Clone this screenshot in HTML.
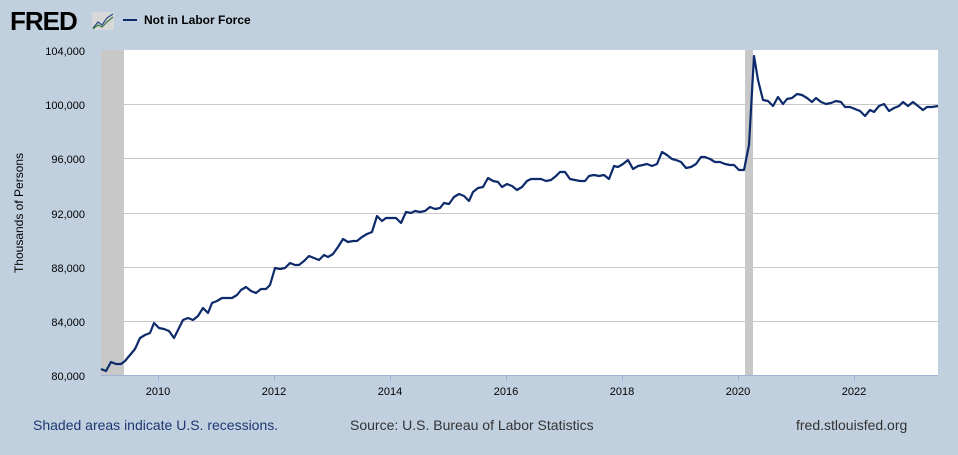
<!DOCTYPE html>
<html><head><meta charset="utf-8"><style>
body{margin:0;width:958px;height:450px;background:#c1d0df;font-family:"Liberation Sans",Arial,sans-serif;overflow:hidden}
</style></head><body>
<svg width="958" height="450" xmlns="http://www.w3.org/2000/svg" font-family="Liberation Sans, Arial, sans-serif">
<rect width="958" height="450" fill="#c1d0df"/>
<text x="10" y="30" font-size="26" font-weight="bold" fill="#000" letter-spacing="-1">FRED</text>
<rect x="92" y="12" width="22" height="18" rx="2" fill="#d8d8d8"/>
<polyline points="93,28 98,22 102,25 107,18 113,14" fill="none" stroke="#2a4a8a" stroke-width="1.2"/>
<polyline points="93,29 98,25 102,27 107,22 113,17" fill="none" stroke="#3a7a3a" stroke-width="1.2"/>
<line x1="123" y1="20" x2="137" y2="20" stroke="#0d2b6b" stroke-width="2"/>
<text x="144" y="24" font-size="12" font-weight="bold" fill="#000">Not in Labor Force</text>
<rect x="101" y="50" width="837" height="326" fill="#fff"/>
<rect x="101" y="50" width="23" height="326" fill="#c8c8c8"/>
<rect x="745" y="50" width="8" height="326" fill="#c8c8c8"/>
<g stroke="#c8c8c8" stroke-width="1">
<line x1="101" y1="104.5" x2="938" y2="104.5"/><line x1="101" y1="158.5" x2="938" y2="158.5"/>
<line x1="101" y1="213.5" x2="938" y2="213.5"/><line x1="101" y1="267.5" x2="938" y2="267.5"/>
<line x1="101" y1="321.5" x2="938" y2="321.5"/>
</g>
<line x1="101" y1="375.5" x2="938" y2="375.5" stroke="#9fb3d6"/>
<g stroke="#9fb3d6"><line x1="158.5" y1="376" x2="158.5" y2="381"/><line x1="274.5" y1="376" x2="274.5" y2="381"/><line x1="390.5" y1="376" x2="390.5" y2="381"/><line x1="506.5" y1="376" x2="506.5" y2="381"/><line x1="622.5" y1="376" x2="622.5" y2="381"/><line x1="738.5" y1="376" x2="738.5" y2="381"/><line x1="854.5" y1="376" x2="854.5" y2="381"/></g>
<g font-size="11" fill="#000" text-anchor="end">
<text x="85" y="55">104,000</text><text x="85" y="109">100,000</text><text x="85" y="163">96,000</text>
<text x="85" y="218">92,000</text><text x="85" y="272">88,000</text><text x="85" y="326">84,000</text><text x="85" y="380">80,000</text>
</g>
<g font-size="11" fill="#000" text-anchor="middle">
<text x="158" y="395">2010</text><text x="274" y="395">2012</text><text x="390" y="395">2014</text><text x="506" y="395">2016</text><text x="622" y="395">2018</text><text x="738" y="395">2020</text><text x="854" y="395">2022</text>
</g>
<text transform="translate(23,213) rotate(-90)" font-size="12" fill="#000" text-anchor="middle">Thousands of Persons</text>
<polyline fill="none" stroke="#0d2b6b" stroke-width="2.2" stroke-linejoin="round" points="101,369 106,371 111,362 116,364 121,364 125,361 130,355 135,349 140,338 145,335 150,333 154,323 159,328 164,329 169,331 174,338 179,328 183,320 188,318 193,320 198,316 203,308 208,313 212,303 217,301 222,298 227,298 232,298 237,295 241,290 246,287 251,291 256,293 261,289 266,289 270,285 275,268 280,269 285,268 290,263 295,265 299,265 304,261 309,256 314,258 319,260 324,255 328,257 333,254 338,247 343,239 348,242 353,241 357,241 362,237 367,234 372,232 377,216 382,221 386,218 391,218 396,218 401,223 406,212 411,213 415,211 420,212 425,211 430,207 435,209 440,208 444,203 449,204 454,197 459,194 464,196 469,201 473,192 478,188 483,187 488,178 493,181 498,182 502,187 507,184 512,186 517,190 522,187 527,181 531,179 536,179 541,179 546,181 551,180 556,176 560,172 565,172 570,179 575,180 580,181 585,181 589,176 594,175 599,176 604,175 609,179 614,166 618,167 623,164 628,160 633,169 638,166 643,165 647,164 652,166 657,164 662,152 667,155 672,159 676,160 681,162 686,168 691,167 696,164 701,157 705,157 710,159 715,162 720,162 725,164 730,165 734,165 739,170 744,170 749,145 754,56 758,80 763,100 768,101 773,106 778,97 783,104 787,99 792,98 797,94 802,95 807,98 812,102 816,98 821,102 826,104 831,103 836,101 841,102 845,107 850,107 855,109 860,111 865,116 870,110 874,112 879,106 884,104 889,111 894,108 899,106 903,102 908,106 913,102 918,106 923,110 927,107 932,107 938,106"/>
<g font-size="14">
<text x="33" y="430" fill="#1c3872">Shaded areas indicate U.S. recessions.</text>
<text x="350" y="430" fill="#333">Source: U.S. Bureau of Labor Statistics</text>
<text x="796" y="430" fill="#333">fred.stlouisfed.org</text>
</g>
</svg>
</body></html>
